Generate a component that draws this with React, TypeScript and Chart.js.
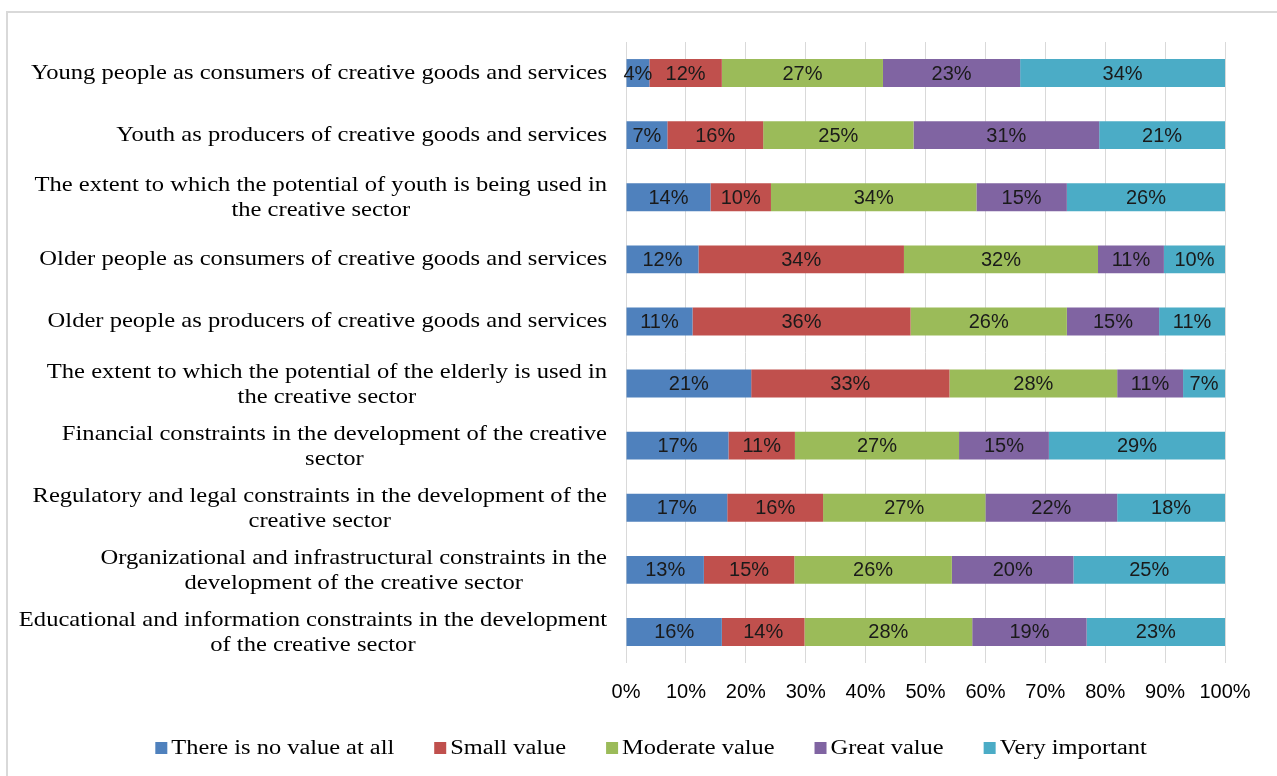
import React, { useEffect, useRef } from 'react';
import { Chart, registerables } from 'chart.js';

Chart.register(...registerables);

const categories: string[][] = [
  ['Young people as consumers of creative goods and services'],
  ['Youth as producers of creative goods and services'],
  ['The extent to which the potential of youth is being used in', 'the creative sector'],
  ['Older people as consumers of creative goods and services'],
  ['Older people as producers of creative goods and services'],
  ['The extent to which the potential of the elderly is used in', 'the creative sector'],
  ['Financial constraints in the development of the creative', 'sector'],
  ['Regulatory and legal constraints in the development of the', 'creative sector'],
  ['Organizational and infrastructural constraints in the', 'development of the creative sector'],
  ['Educational and information constraints in the development', 'of the creative sector'],
];

const seriesNames = ['There is no value at all', 'Small value', 'Moderate value', 'Great value', 'Very important'];

const noValue = [3.9, 6.9, 14.1, 12.1, 11.1, 20.9, 17.1, 16.9, 13.0, 16.0];
const smallValue = [12.1, 16.0, 10.1, 34.3, 36.4, 33.1, 11.1, 16.0, 15.1, 13.8];
const moderateValue = [26.9, 25.1, 34.3, 32.4, 26.1, 28.0, 27.4, 27.1, 26.3, 28.0];
const greatValue = [22.9, 31.0, 15.1, 11.0, 15.4, 11.0, 15.0, 22.0, 20.3, 19.1];
const veryImportant = [34.2, 21.0, 26.4, 10.2, 11.0, 7.0, 29.4, 18.0, 25.3, 23.1];

const xTickLabels = ['0%', '10%', '20%', '30%', '40%', '50%', '60%', '70%', '80%', '90%', '100%'];

const seriesColors = ['#4F81BD', '#C0504D', '#9BBB59', '#8064A2', '#4BACC6'];

const SERIF = '"Liberation Serif", "Times New Roman", serif';
const SANS = '"Liberation Sans", Arial, sans-serif';
const SERIF_STRETCH = 1.17;

const categoryLabelPlugin = {
  id: 'categoryLabels',
  afterDraw(chart: any) {
    const ctx = chart.ctx;
    const yScale = chart.scales.y;
    const rightEdge = chart.chartArea.left - 19;
    const lineHeight = 25;
    ctx.save();
    ctx.font = `21px ${SERIF}`;
    ctx.fillStyle = '#000000';
    ctx.textAlign = 'center';
    ctx.textBaseline = 'middle';
    categories.forEach((lines, i) => {
      const y = yScale.getPixelForValue(i);
      const blockW = Math.max(...lines.map((l) => ctx.measureText(l).width)) * SERIF_STRETCH;
      const cx = rightEdge - blockW / 2;
      const startY = y - ((lines.length - 1) * lineHeight) / 2 + (lines.length > 1 ? 1 : 0);
      lines.forEach((l, j) => {
        ctx.save();
        ctx.translate(cx, startY + j * lineHeight);
        ctx.scale(SERIF_STRETCH, 1);
        ctx.fillText(l, 0, 0);
        ctx.restore();
      });
    });
    ctx.restore();
  },
};

const legendPlugin = {
  id: 'customLegend',
  afterDraw(chart: any) {
    const ctx = chart.ctx;
    const stretch = 1.22;
    const box = 12;
    const boxGap = 4;
    const itemGap = 40;
    const centerX = 651;
    const y = 748;
    ctx.save();
    ctx.font = `20px ${SERIF}`;
    ctx.textBaseline = 'middle';
    ctx.textAlign = 'left';
    const widths = seriesNames.map((n) => ctx.measureText(n).width * stretch);
    const total = widths.reduce((a, w) => a + box + boxGap + w, 0) + itemGap * (seriesNames.length - 1);
    let x = centerX - total / 2;
    seriesNames.forEach((n, i) => {
      ctx.fillStyle = seriesColors[i];
      ctx.fillRect(x, y - box / 2, box, box);
      ctx.fillStyle = '#000000';
      ctx.save();
      ctx.translate(x + box + boxGap, y + 1);
      ctx.scale(stretch, 1);
      ctx.fillText(n, 0, 0);
      ctx.restore();
      x += box + boxGap + widths[i] + itemGap;
    });
    ctx.restore();
  },
};

const dataLabelPlugin = {
  id: 'dataLabels',
  afterDatasetsDraw(chart: any) {
    const ctx = chart.ctx;
    ctx.save();
    ctx.font = `20px ${SANS}`;
    ctx.fillStyle = '#1a1a1a';
    ctx.textAlign = 'center';
    ctx.textBaseline = 'middle';
    chart.data.datasets.forEach((ds: any, di: number) => {
      const meta = chart.getDatasetMeta(di);
      meta.data.forEach((el: any, i: number) => {
        const v = ds.data[i];
        const cx = (el.x + el.base) / 2;
        ctx.fillText(`${Math.round(v)}%`, cx, el.y + 1);
      });
    });
    ctx.restore();
  },
};

export default function App() {
  const canvasRef = useRef<HTMLCanvasElement | null>(null);

  useEffect(() => {
    if (!canvasRef.current) return;
    const seriesData = [noValue, smallValue, moderateValue, greatValue, veryImportant];
    const chart = new Chart(canvasRef.current, {
      type: 'bar',
      data: {
        labels: categories.map((c) => c.join(' ')),
        datasets: seriesNames.map((name, i) => ({
          label: name,
          data: seriesData[i],
          backgroundColor: seriesColors[i],
          borderWidth: 0,
          barPercentage: 0.45,
          categoryPercentage: 1,
        })),
      },
      options: {
        indexAxis: 'y',
        animation: false,
        responsive: false,
        maintainAspectRatio: false,
        layout: { padding: { left: 626, right: 52, top: 42, bottom: 55 } },
        scales: {
          x: {
            stacked: true,
            min: 0,
            max: 100,
            ticks: {
              stepSize: 10,
              padding: 17,
              color: '#000000',
              font: { family: SANS, size: 20 },
              callback: (_v: any, i: number) => xTickLabels[i],
            },
            grid: { color: '#d9d9d9', lineWidth: 1, drawTicks: false },
            border: { display: false },
          },
          y: {
            stacked: true,
            ticks: { display: false },
            grid: { display: false, drawTicks: false },
            border: { display: false },
          },
        },
        plugins: {
          legend: { display: false },
          tooltip: { enabled: false },
        },
      },
      plugins: [categoryLabelPlugin, dataLabelPlugin, legendPlugin],
    });
    return () => chart.destroy();
  }, []);

  return (
    <div style={{ position: 'fixed', left: 0, top: 0, width: 1277, height: 776, background: '#ffffff', overflow: 'hidden' }}>
      <div
        style={{
          position: 'absolute',
          left: 6,
          top: 11,
          width: 1300,
          height: 800,
          borderLeft: '2px solid #d9d9d9',
          borderTop: '2px solid #d9d9d9',
        }}
      />
      <canvas ref={canvasRef} width={1277} height={776} style={{ position: 'absolute', left: 0, top: 0 }} />
    </div>
  );
}
